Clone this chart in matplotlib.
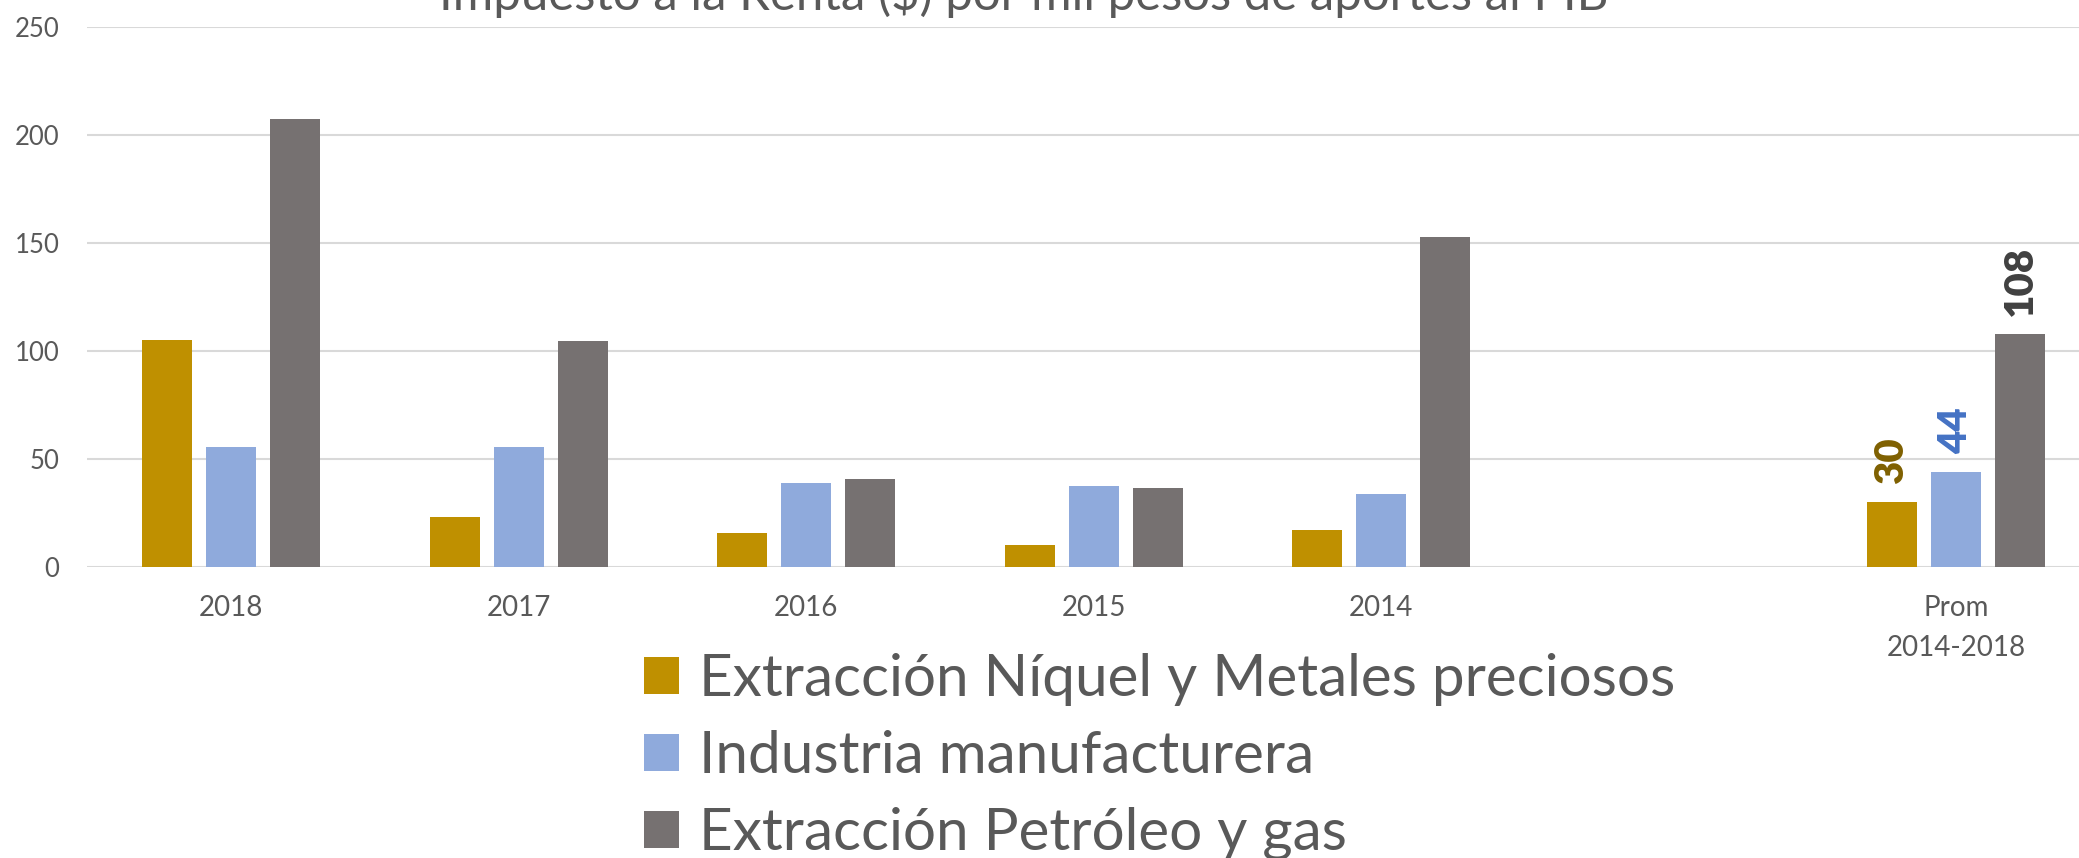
import numpy as np
import matplotlib
matplotlib.use("Agg")
import matplotlib.pyplot as plt
from matplotlib.patches import Patch

plt.rcParams['font.family'] = ['Lato', 'DejaVu Sans']

title = "Impuesto a la Renta ($) por mil pesos de aportes al PIB"
categories = ['2018', '2017', '2016', '2015', '2014', '', 'Prom\n2014-2018']
series_names = ['Extracción Níquel y Metales preciosos',
                'Industria manufacturera',
                'Extracción Petróleo y gas']
niquel = [105.3, 23.0, 15.6, 10.2, 16.9, np.nan, 30]
industria = [55.7, 55.7, 38.7, 37.6, 33.6, np.nan, 44]
petroleo = [207.3, 104.5, 40.6, 36.7, 152.8, np.nan, 108]
yticks = [0, 50, 100, 150, 200, 250]

colors = ['#BF9000', '#8FAADC', '#767171']
label_colors = ['#7F6000', '#4472C4', '#404040']
text_color = '#595959'

W, H = 2079, 858
fig = plt.figure(figsize=(W / 100, H / 100), dpi=100)
fig.patch.set_facecolor('white')

left_px, right_px = 87.25, 87.25 + 7 * 287.5
bottom_px, top_px = 567, 27
ax = fig.add_axes([left_px / W, (H - bottom_px) / H,
                   (right_px - left_px) / W, (bottom_px - top_px) / H])

x = np.arange(len(categories))
bw = 50 / 287.5
step = 64 / 287.5
series = [niquel, industria, petroleo]
for i, (vals, c, name, lc) in enumerate(zip(series, colors, series_names, label_colors)):
    cont = ax.bar(x + (i - 1) * step, vals, width=bw, color=c, label=name, zorder=3)
    labels = ['' if (j != len(vals) - 1) else f'{v:.0f}' for j, v in enumerate(vals)]
    ax.bar_label(cont, labels=labels, rotation=90, padding=13, color=lc,
                 fontsize=29, fontweight='heavy')

ax.set_xlim(-0.5, len(categories) - 0.5)
ax.set_ylim(0, 250)
ax.set_yticks(yticks)
ax.set_yticklabels([str(t) for t in yticks])
ax.set_xticks(x)
ax.set_xticklabels(categories, fontsize=20, color=text_color, linespacing=1.69)
ax.tick_params(axis='y', labelsize=18.5, colors=text_color, length=0, pad=20)
ax.tick_params(axis='x', length=0, pad=20)
for s in ax.spines.values():
    s.set_visible(False)
ax.yaxis.grid(True, color='#D9D9D9', linewidth=1.5, zorder=0)
ax.set_axisbelow(True)

fig.text(1024 / W, 1 - 10 / H, title, ha='center', va='baseline',
         fontsize=35.4, color=text_color)

handles = [Patch(facecolor=c, edgecolor='none') for c in colors]
fs = 42
fig.legend(handles, series_names, loc='upper left',
           bbox_to_anchor=(644 / W, 1 - 653 / H), frameon=False,
           fontsize=fs, labelcolor=text_color, handlelength=0.6,
           handleheight=0.6, handletextpad=0.34, labelspacing=0.41,
           borderpad=0, borderaxespad=0)

fig.savefig('out.png', dpi=100, facecolor='white')
